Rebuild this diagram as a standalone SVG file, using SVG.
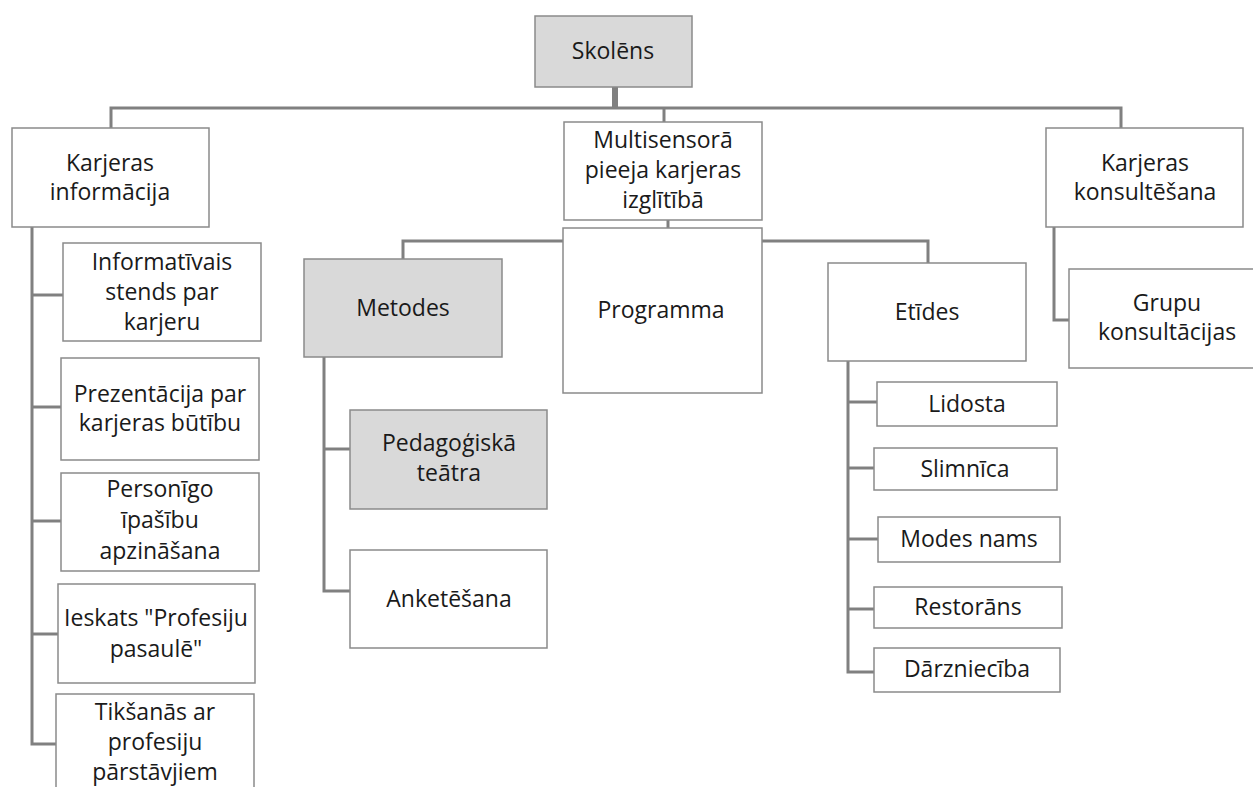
<svg xmlns="http://www.w3.org/2000/svg" width="1253" height="787" viewBox="0 0 1253 787">
<style>
.b{fill:#ffffff;stroke:#8a8a8a;stroke-width:1.5}
.g{fill:#d9d9d9;stroke:#8a8a8a;stroke-width:1.5}
.t{font-family:"Open Sans","Noto Sans",sans-serif;font-size:23px;fill:#1a1a1a;text-anchor:middle}
.c{fill:none;stroke:#808080;stroke-width:3}
</style>
<rect width="1253" height="787" fill="#ffffff"/>
<g id="connectors">
<line x1="615" y1="87" x2="615" y2="108" style="fill:none;stroke:#808080;stroke-width:6"/>
<polyline class="c" points="111,128 111,108 1121,108 1121,128"/>
<line class="c" x1="664" y1="108" x2="664" y2="122"/>
<line class="c" x1="668" y1="220" x2="668" y2="228"/>
<polyline class="c" points="403,259 403,241 563,241"/>
<polyline class="c" points="762,241 928,241 928,263"/>
<polyline class="c" points="32,227 32,744 56,744"/>
<line class="c" x1="32" y1="295" x2="63" y2="295"/>
<line class="c" x1="32" y1="407" x2="61" y2="407"/>
<line class="c" x1="32" y1="521" x2="61" y2="521"/>
<line class="c" x1="32" y1="634" x2="58" y2="634"/>
<polyline class="c" points="324,357 324,591 350,591"/>
<line class="c" x1="324" y1="449" x2="350" y2="449"/>
<polyline class="c" points="848,361 848,672 874,672"/>
<line class="c" x1="848" y1="402" x2="877" y2="402"/>
<line class="c" x1="848" y1="468" x2="874" y2="468"/>
<line class="c" x1="848" y1="539" x2="878" y2="539"/>
<line class="c" x1="848" y1="609" x2="874" y2="609"/>
<polyline class="c" points="1054,227 1054,320 1069,320"/>
</g>
<g id="skolens"><rect class="g" x="535" y="16" width="157" height="71"/><text class="t" x="613" y="59">Skolēns</text></g>
<g id="karjeras-informacija"><rect class="b" x="12" y="128" width="197" height="99"/><text class="t" x="110" y="171">Karjeras</text><text class="t" x="110" y="200">informācija</text></g>
<g id="multisensora"><rect class="b" x="564" y="122" width="198" height="98"/><text class="t" x="663" y="148">Multisensorā</text><text class="t" x="663" y="178">pieeja karjeras</text><text class="t" x="663" y="208">izglītībā</text></g>
<g id="karjeras-konsultesana"><rect class="b" x="1046" y="128" width="197" height="99"/><text class="t" x="1145" y="171">Karjeras</text><text class="t" x="1145" y="200">konsultēšana</text></g>
<g id="grupu"><rect class="b" x="1069" y="269" width="197" height="99"/><text class="t" x="1167" y="311">Grupu</text><text class="t" x="1167" y="340">konsultācijas</text></g>
<g id="programma"><rect class="b" x="563" y="228" width="199" height="165"/><text class="t" x="661" y="318">Programma</text></g>
<g id="metodes"><rect class="g" x="304" y="259" width="198" height="98"/><text class="t" x="403" y="316">Metodes</text></g>
<g id="etides"><rect class="b" x="828" y="263" width="198" height="98"/><text class="t" x="927" y="320">Etīdes</text></g>
<g id="pedagogiska"><rect class="g" x="350" y="410" width="197" height="99"/><text class="t" x="449" y="451">Pedagoģiskā</text><text class="t" x="449" y="481">teātra</text></g>
<g id="anketesana"><rect class="b" x="350" y="550" width="197" height="98"/><text class="t" x="449" y="607">Anketēšana</text></g>
<g id="lidosta"><rect class="b" x="877" y="382" width="180" height="44"/><text class="t" x="967" y="412">Lidosta</text></g>
<g id="slimnica"><rect class="b" x="874" y="448" width="183" height="42"/><text class="t" x="965" y="477">Slimnīca</text></g>
<g id="modes-nams"><rect class="b" x="878" y="517" width="182" height="45"/><text class="t" x="969" y="547">Modes nams</text></g>
<g id="restorans"><rect class="b" x="874" y="587" width="188" height="41"/><text class="t" x="968" y="615">Restorāns</text></g>
<g id="darzniecība"><rect class="b" x="874" y="648" width="186" height="44"/><text class="t" x="967" y="677">Dārzniecība</text></g>
<g id="informativais"><rect class="b" x="63" y="243" width="198" height="98"/><text class="t" x="162" y="270">Informatīvais</text><text class="t" x="162" y="300">stends par</text><text class="t" x="162" y="330">karjeru</text></g>
<g id="prezentacija"><rect class="b" x="61" y="358" width="198" height="102"/><text class="t" x="160" y="402">Prezentācija par</text><text class="t" x="160" y="431">karjeras būtību</text></g>
<g id="personigo"><rect class="b" x="61" y="473" width="198" height="98"/><text class="t" x="160" y="497">Personīgo</text><text class="t" x="160" y="528">īpašību</text><text class="t" x="160" y="559">apzināšana</text></g>
<g id="ieskats"><rect class="b" x="58" y="584" width="197" height="99"/><text class="t" x="156" y="626">Ieskats "Profesiju</text><text class="t" x="156" y="657">pasaulē"</text></g>
<g id="tiksanas"><rect class="b" x="56" y="694" width="198" height="100"/><text class="t" x="155" y="720">Tikšanās ar</text><text class="t" x="155" y="750">profesiju</text><text class="t" x="155" y="780">pārstāvjiem</text></g>
</svg>
